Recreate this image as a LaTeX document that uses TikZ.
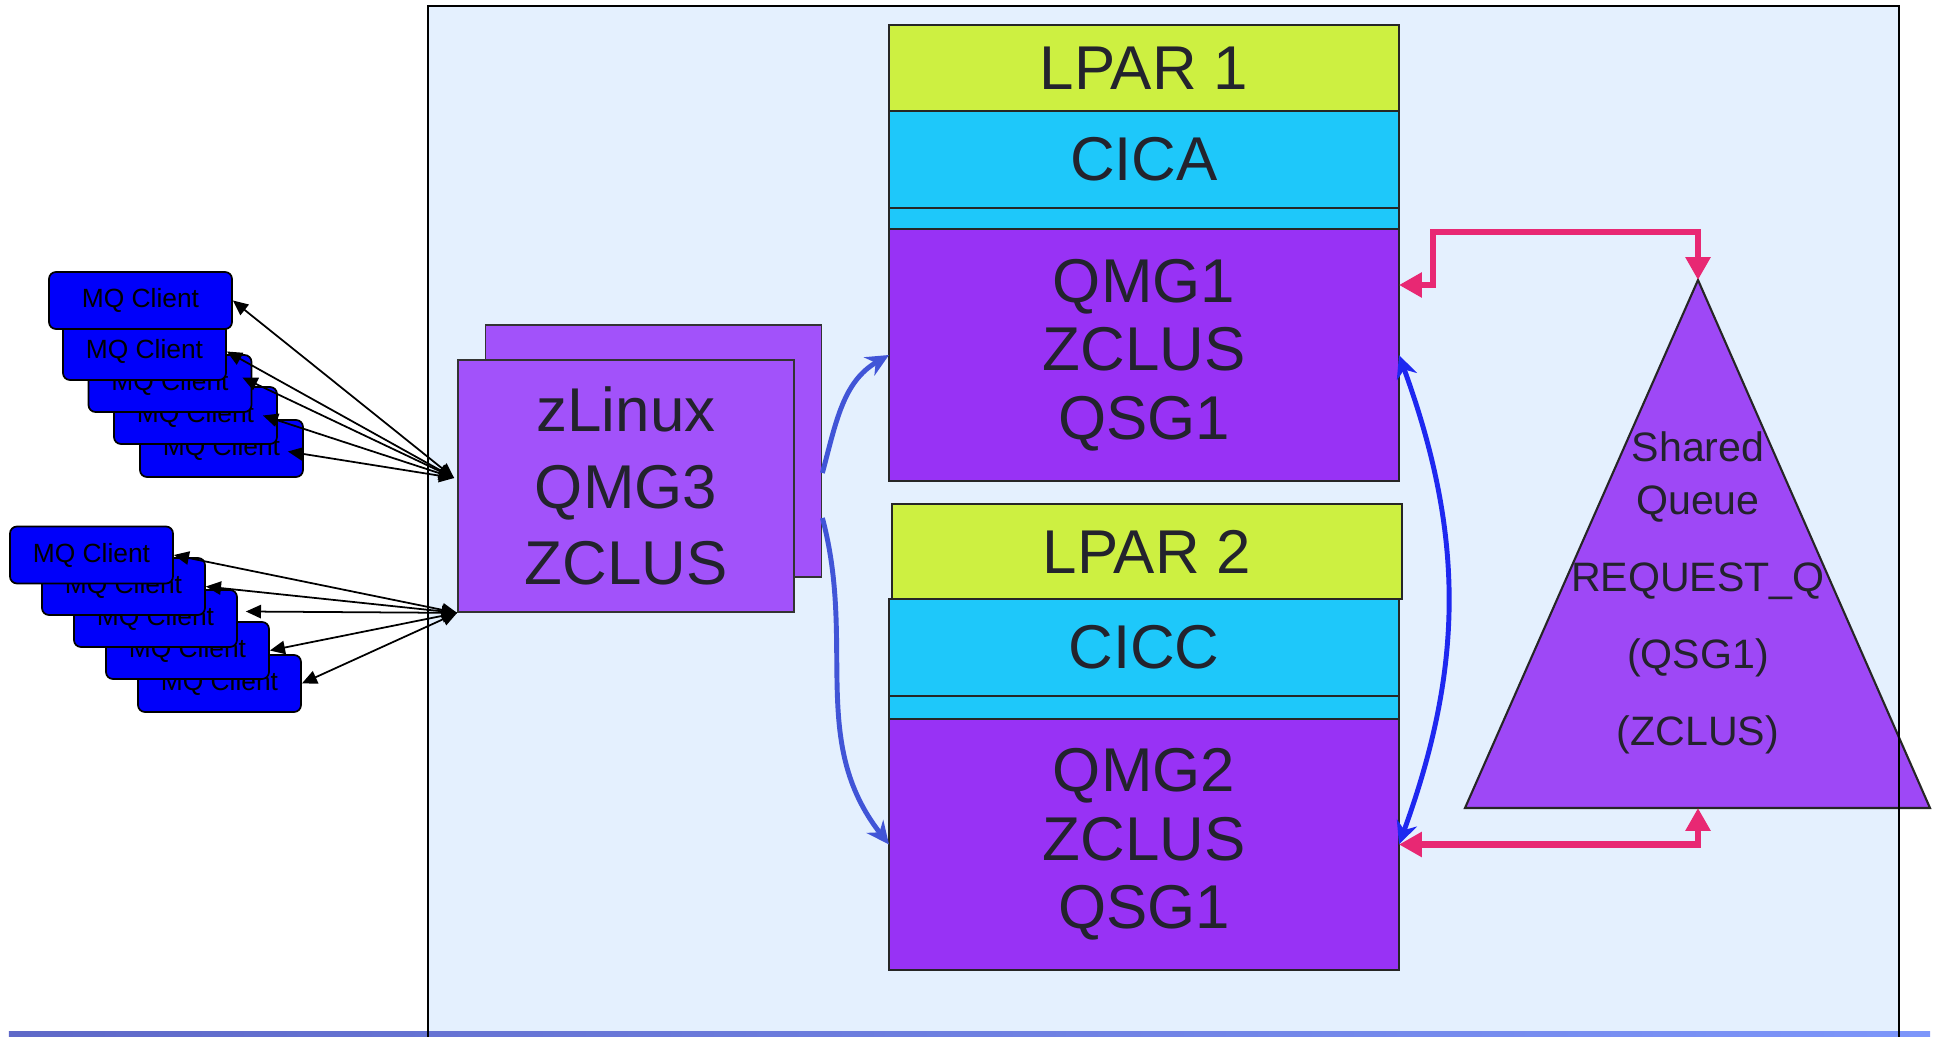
\documentclass[tikz,border=0pt]{standalone}
\usepackage{fontspec}
\setmainfont{Liberation Sans}
\usepackage{tikz}
\usetikzlibrary{arrows.meta}
\usetikzlibrary{positioning}

\definecolor{panelblue}{RGB}{228,240,254}
\definecolor{lparyellow}{RGB}{205,240,65}
\definecolor{cicscyan}{RGB}{30,200,250}
\definecolor{qmgpurple}{RGB}{152,50,245}
\definecolor{linuxpurple}{RGB}{162,82,250}
\definecolor{sqpurple}{RGB}{158,72,246}
\definecolor{clientblue}{RGB}{0,0,250}
\definecolor{linkpink}{RGB}{232,40,115}
\definecolor{flowblue}{RGB}{65,85,215}
\definecolor{arcblue}{RGB}{30,40,240}
\definecolor{textgrey}{RGB}{35,35,45}

\begin{document}
\begin{tikzpicture}[
    client/.style={draw=black,line width=0.5pt,fill=clientblue,rounded corners=0.07cm,
      minimum width=1.63cm,minimum height=0.57cm,inner sep=0pt,
      font=\fontsize{7.5}{9}\selectfont},
    layer/.style={draw=black!85,line width=0.5pt,minimum width=5.10cm,inner sep=0pt,
      outer sep=0pt,text=textgrey,align=center,font=\fontsize{17.6}{19.5}\selectfont},
    linuxbox/.style={draw=black!80,line width=0.5pt,fill=linuxpurple,minimum width=3.36cm,
      minimum height=2.52cm,inner sep=0pt,text=textgrey,align=center,
      font=\fontsize{17.6}{21.7}\selectfont},
    conn/.style={{Triangle[length=4.3pt,width=3.8pt]}-{Triangle[length=4.3pt,width=3.8pt]},
      line width=0.5pt},
    qlink/.style={{Triangle[length=6.5pt,width=6.8pt]}-{Triangle[length=6.5pt,width=6.8pt]},
      linkpink,line width=1.8pt},
    flow/.style={-{Stealth[length=6.5pt,width=6pt]},flowblue,line width=1.4pt},
    qsgarc/.style={{Stealth[length=6.5pt,width=6pt]}-{Stealth[length=6.5pt,width=6pt]},
      arcblue,line width=1.4pt}
  ]
  \useasboundingbox (0,0) rectangle (19.39,-10.37);

  % sysplex background and bottom bar
  \fill[panelblue] (4.28,-0.06) rectangle (18.99,-10.37);
  \shade[left color={rgb,255:red,95;green,105;blue,200},
    right color={rgb,255:red,125;green,150;blue,250}] (0.09,-10.31) rectangle (19.30,-10.37);

  % LPAR 1
  \node[layer,fill=lparyellow,minimum height=0.86cm] (lpar1) at (11.44,-0.68) {LPAR 1};
  \node[layer,fill=cicscyan,minimum height=0.97cm,below=0cm of lpar1] (cica) {CICA};
  \node[layer,fill=cicscyan,minimum height=0.21cm,below=0cm of cica] (strip1) {};
  \node[layer,fill=qmgpurple,minimum height=2.52cm,below=0cm of strip1] (qmg1)
    {QMG1\\ZCLUS\\QSG1};

  % LPAR 2
  \node[layer,fill=lparyellow,minimum height=0.95cm] (lpar2) at (11.47,-5.515) {LPAR 2};
  \node[layer,fill=cicscyan,minimum height=0.97cm,below=0cm of lpar2,xshift=-0.03cm] (cicc)
    {CICC};
  \node[layer,fill=cicscyan,minimum height=0.23cm,below=0cm of cicc] (strip2) {};
  \node[layer,fill=qmgpurple,minimum height=2.51cm,below=0cm of strip2] (qmg2)
    {QMG2\\ZCLUS\\QSG1};

  % shared queue
  \coordinate (sqtop) at (16.98,-2.80);
  \coordinate (sqleft) at (14.65,-8.08);
  \coordinate (sqright) at (19.30,-8.08);
  \filldraw[fill=sqpurple,draw=black!85,line width=0.6pt] (sqtop) -- (sqleft) -- (sqright) -- cycle;
  \node[text=textgrey,align=center,font=\fontsize{11.7}{15}\selectfont] (sq) at (16.98,-5.93)
    {Shared\\Queue\\[6.9pt]REQUEST\_Q\\[6.9pt](QSG1)\\[6.9pt](ZCLUS)};

  \draw[qlink] ([yshift=-0.56cm]qmg1.north east) -- ++(0.34,0) |- ([yshift=0.48cm]sqtop)
    -- (sqtop);
  \draw[qlink] (qmg2.east) -| (sqleft -| sqtop);
  \draw[qsgarc] (qmg1.east) to[out=-70,in=70] (qmg2.east);

  % zLinux queue managers
  \node[linuxbox] (zlback) at (6.535,-4.51) {};
  \node[linuxbox] (zl) at (6.26,-4.86) {zLinux\\QMG3\\ZCLUS};

  \draw[flow] ([yshift=-0.22cm]zlback.east) to[out=75,in=210] (qmg1.west);
  \draw[flow] ([yshift=-0.67cm]zlback.east) to[out=-75,in=128] (qmg2.west);

  % clients, upper group
  \node[client] (c5) at (2.215,-4.485) {MQ Client};
  \node[client] (c4) at (1.955,-4.155) {MQ Client};
  \node[client] (c3) at (1.70,-3.835) {MQ Client};
  \node[client] (c2) at (1.445,-3.515) {MQ Client};
  \node[client,minimum width=1.83cm] (c1) at (1.405,-3.005) {MQ Client};

  % clients, lower group
  \node[client] (d5) at (2.195,-6.835) {MQ Client};
  \node[client] (d4) at (1.875,-6.505) {MQ Client};
  \node[client] (d3) at (1.555,-6.185) {MQ Client};
  \node[client] (d2) at (1.235,-5.865) {MQ Client};
  \node[client] (d1) at (0.915,-5.55) {MQ Client};

  \draw[conn] (c1.east) -- ([xshift=-0.03cm,yshift=0.08cm]zl.west);
  \draw[conn] (c2.east) -- ([xshift=-0.03cm,yshift=0.08cm]zl.west);
  \draw[conn] ([xshift=-0.10cm,yshift=0.06cm]c3.east) -- ([xshift=-0.03cm,yshift=0.08cm]zl.west);
  \draw[conn] ([xshift=-0.15cm]c4.east) -- ([xshift=-0.03cm,yshift=0.08cm]zl.west);
  \draw[conn] ([xshift=-0.16cm,yshift=-0.03cm]c5.east) -- ([xshift=-0.03cm,yshift=0.08cm]zl.west);

  \draw[conn] (d1.east) -- (zl.south west);
  \draw[conn] (d2.east) -- (zl.south west);
  \draw[conn] ([xshift=0.08cm,yshift=0.07cm]d3.east) -- (zl.south west);
  \draw[conn] (d4.east) -- (zl.south west);
  \draw[conn] (d5.east) -- (zl.south west);

  % sysplex frame
  \draw[line width=0.6pt] (4.28,-10.37) |- (18.99,-0.06) -- (18.99,-10.37);
\end{tikzpicture}
\end{document}
